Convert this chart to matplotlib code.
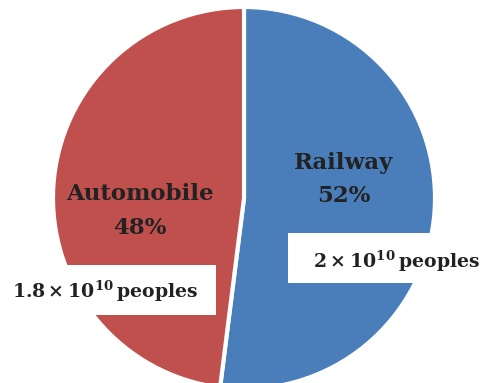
import matplotlib
matplotlib.use("Agg")
import matplotlib.pyplot as plt
from matplotlib.patches import Rectangle

labels = ["Railway", "Automobile"]
shares = [52, 48]
counts = ["2", "1.8"]
colors = ["#4A7EBB", "#C0504D"]

plt.rcParams['mathtext.fontset'] = 'dejavuserif'
W, H = 484, 383
fig = plt.figure(figsize=(W / 100, H / 100), dpi=100)
ax = fig.add_axes([0, 0, 1, 1])

def Y(y):
    return H - y

cx, cy, r = 244, 198, 191
ax.pie(shares, colors=colors, startangle=90, counterclock=False,
       center=(cx, Y(cy)), radius=r, frame=True,
       wedgeprops=dict(edgecolor='white', linewidth=3))
ax.set_xlim(0, W)
ax.set_ylim(0, H)
ax.set_aspect('equal')
ax.axis('off')

tc = "#222222"
font = dict(family="DejaVu Serif", color=tc, fontweight='bold')
ax.text(344, Y(163), labels[0], ha='center', va='center', fontsize=16.5, **font)
ax.text(344, Y(196), f"{shares[0]}%", ha='center', va='center', fontsize=16.5, **font)
ax.text(140, Y(194), labels[1], ha='center', va='center', fontsize=16.5, **font)
ax.text(140, Y(228), f"{shares[1]}%", ha='center', va='center', fontsize=16.5, **font)

ax.add_patch(Rectangle((288, Y(283)), 200, 50, facecolor='white', edgecolor='none', zorder=3))
ax.add_patch(Rectangle((-5, Y(315)), 221, 50, facecolor='white', edgecolor='none', zorder=3))

def ann(c):
    return c + "\u2009×\u200910$^{\\mathbf{10}}$\u2009peoples"

ax.text(313, Y(268), ann(counts[0]), ha='left', va='baseline',
        fontsize=13.6, zorder=4, **font)
ax.text(12, Y(298), ann(counts[1]), ha='left', va='baseline',
        fontsize=13.6, zorder=4, **font)

fig.savefig("out.png", dpi=100)
